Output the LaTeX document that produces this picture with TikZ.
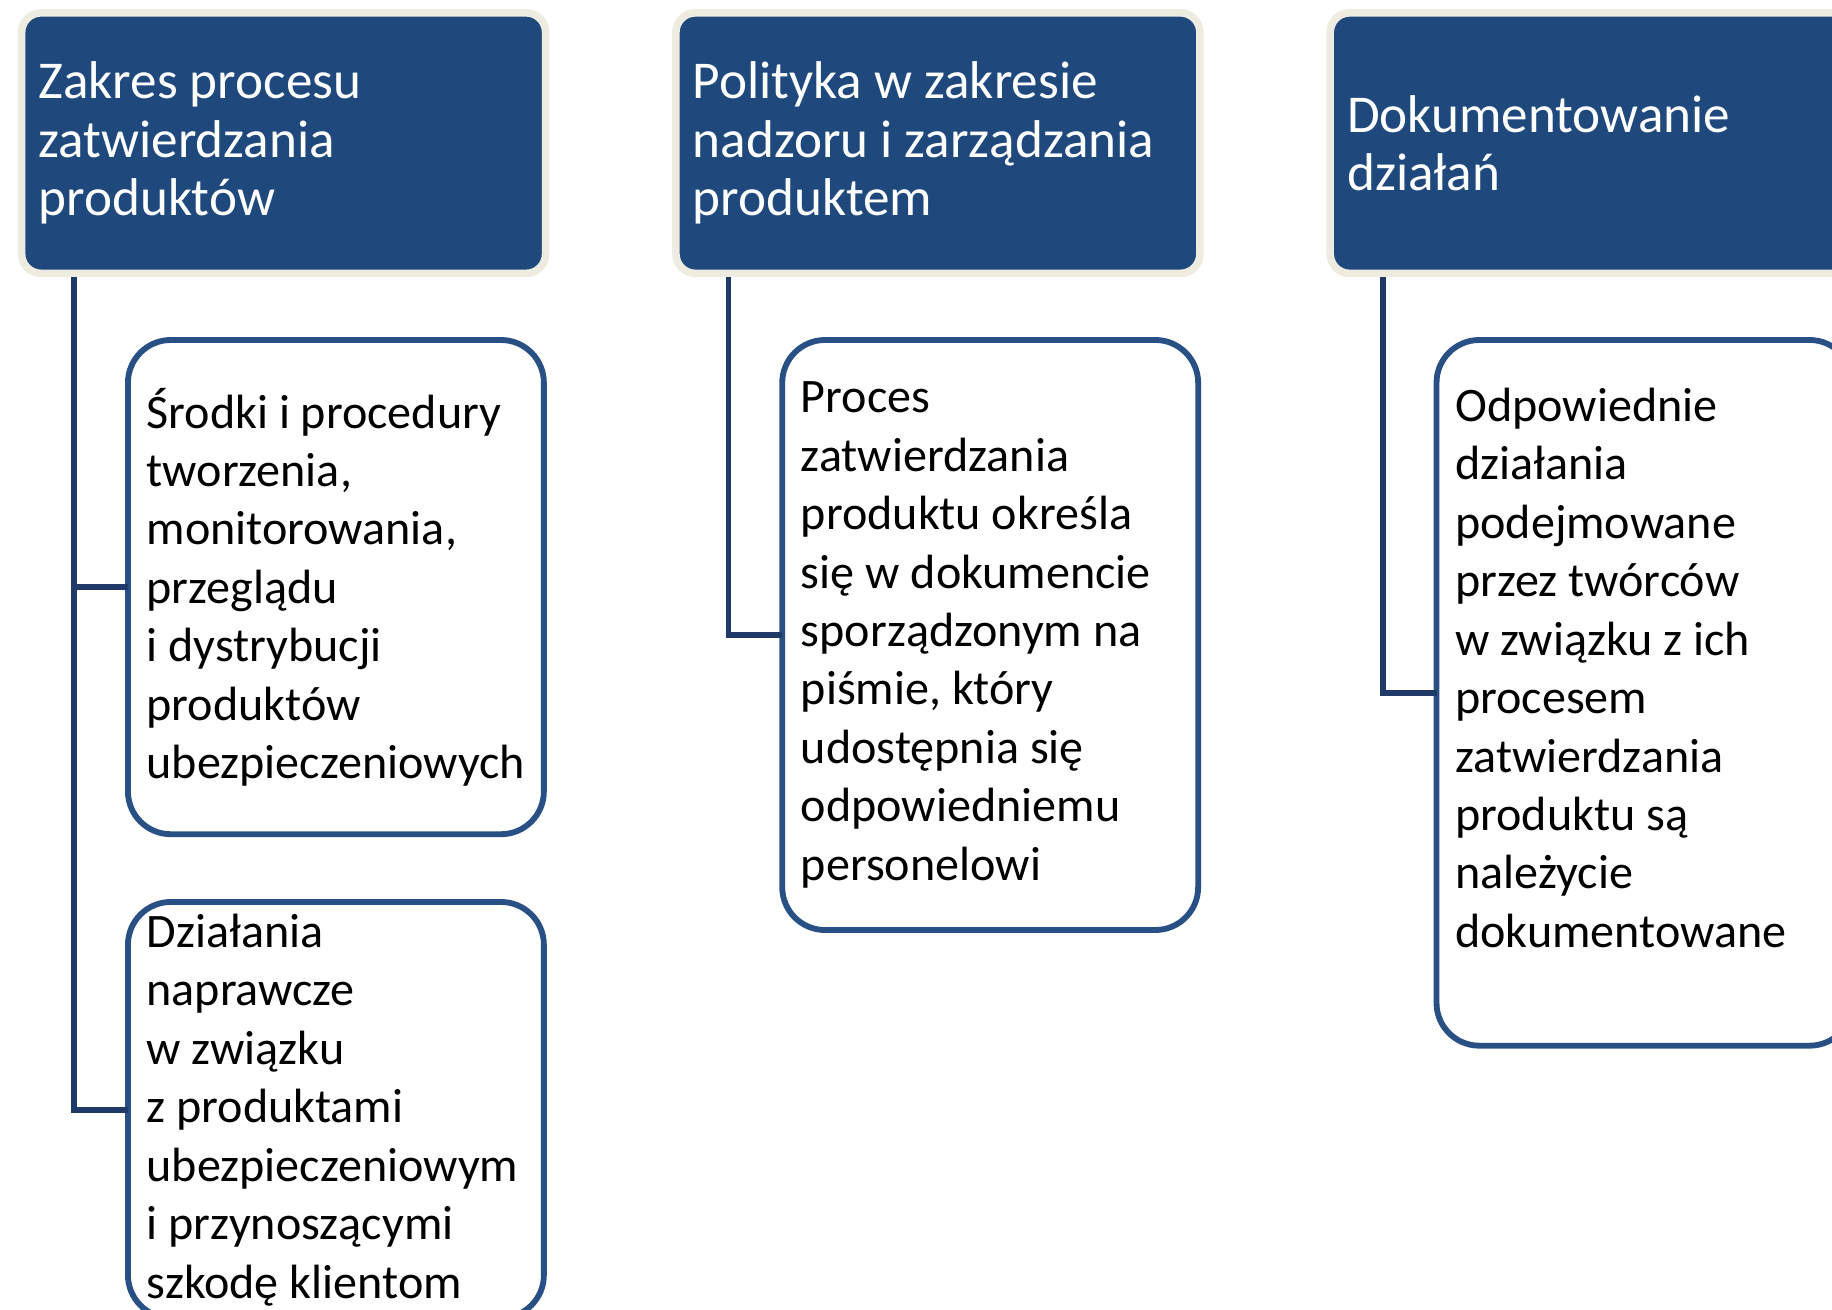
\documentclass[tikz,border=0pt]{standalone}
\usepackage{fontspec}
\setmainfont{Carlito}
\usetikzlibrary{positioning,shadows}
\definecolor{granat}{RGB}{31,73,125}
\definecolor{krem}{RGB}{238,236,225}
\definecolor{ramka}{RGB}{41,80,133}
\definecolor{linia}{RGB}{31,58,104}
\tikzset{
    %Define style for the dark header boxes
    naglowek/.style={
           rectangle,
           rounded corners=10pt,
           fill=granat, draw=krem, line width=3.9pt,
           drop shadow={shadow xshift=0pt, shadow yshift=-1.5pt, opacity=0.25},
           text=white,
           text width=251.7pt,
           inner xsep=8.7pt,
           outer sep=0pt,
           minimum height=133.8pt,
           align=flush left,
           font=\fontsize{27.3}{30}\selectfont},
    %Define style for the white boxes
    pole/.style={
           rectangle,
           rounded corners=22pt,
           fill=white, draw=ramka, line width=3pt,
           text width=194.4pt,
           inner xsep=9.6pt,
           outer sep=0pt,
           align=flush left,
           font=\fontsize{24.7}{30}\selectfont},
    % Define connector style
    lacznik/.style={
           draw=linia,
           line width=2.8pt,
           shorten <=1.95pt}
}
\begin{document}
\begin{tikzpicture}[x=0.6pt, y=-0.6pt, node distance=66.9pt]
\useasboundingbox (0,0) rectangle (1568,1121);
\clip (0,0) rectangle (1568,1121);
\node[naglowek](zakres) at (242.75,122.5){Zakres procesu\\ zatwierdzania\\ produktów};
\node[naglowek,right=of zakres](polityka){Polityka w zakresie\\ nadzoru i zarządzania\\ produktem};
\node[naglowek,right=of polityka](dok){Dokumentowanie\\ działań};
\node[pole,minimum height=253.8pt,below right=34.2pt and 54.6pt of zakres.south west](srodki){Środki i procedury\\ tworzenia,\\ monitorowania,\\ przeglądu\\ i dystrybucji\\ produktów\\ ubezpieczeniowych};
\node[pole,inner ysep=0pt,minimum height=213.6pt,below=34.8pt of srodki](dzialania){Działania\\ naprawcze\\ w związku\\ z produktami\\ ubezpieczeniowym\\ i przynoszącymi\\ szkodę klientom};
\node[pole,minimum height=303pt,below right=34.2pt and 54.6pt of polityka.south west](proces){Proces\\ zatwierdzania\\ produktu określa\\ się w dokumencie\\ sporządzonym na\\ piśmie, który\\ udostępnia się\\ odpowiedniemu\\ personelowi};
\node[pole,minimum height=362.4pt,below right=34.2pt and 54.6pt of dok.south west](odp){Odpowiednie\\ działania\\ podejmowane\\ przez twórców\\ w związku z ich\\ procesem\\ zatwierdzania\\ produktu są\\ należycie\\ dokumentowane\\[-4.2pt]\mbox{}};
\draw[lacznik] ([xshift=27pt]zakres.south west) |- (srodki.west);
\draw[lacznik] ([xshift=27pt]zakres.south west) |- (dzialania.west);
\draw[lacznik] ([xshift=27pt]polityka.south west) |- (proces.west);
\draw[lacznik] ([xshift=27pt]dok.south west) |- (odp.west);
\end{tikzpicture}
\end{document}
